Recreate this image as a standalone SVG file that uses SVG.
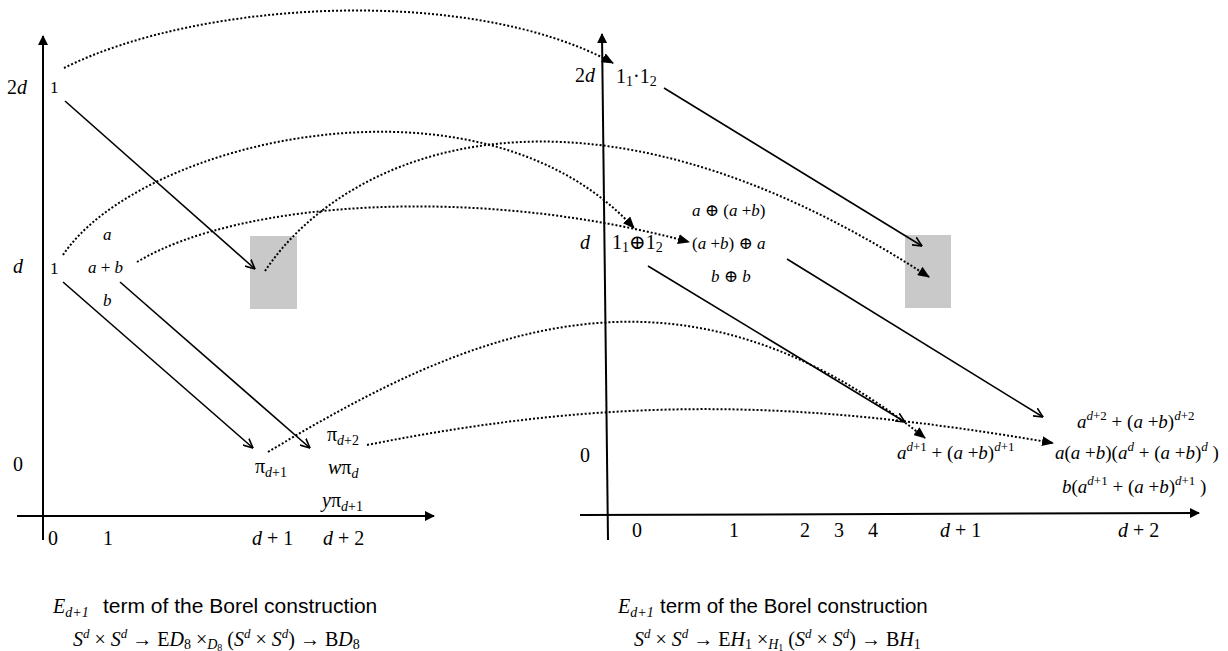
<svg xmlns="http://www.w3.org/2000/svg" width="1228" height="651" viewBox="0 0 1228 651">
<style>
.s{font-family:"Liberation Serif","DejaVu Serif",serif;font-size:20px;fill:#000}
.m{font-size:17px}
.e{font-size:19px}
.i{font-style:italic}
.sans{font-family:"Liberation Sans",Arial,sans-serif;font-style:normal}
.dot{fill:none;stroke:#000;stroke-width:2;stroke-dasharray:2 2}
.sol{fill:none;stroke:#000;stroke-width:1.6}
.ax{fill:none;stroke:#000;stroke-width:2}
.box{fill:#c9c9c9}
</style>
<defs>
<marker id="fa" viewBox="0 0 12 10" refX="11" refY="5" markerWidth="12" markerHeight="10" markerUnits="userSpaceOnUse" orient="auto"><path d="M0,0 L12,5 L0,10 z" fill="#000"/></marker>
<marker id="va" viewBox="0 0 10 10" refX="9.5" refY="5" markerWidth="10" markerHeight="10" markerUnits="userSpaceOnUse" orient="auto"><path d="M0,0.5 L9.5,5 L0,9.5" fill="none" stroke="#000" stroke-width="1.6"/></marker>
<marker id="ta" viewBox="0 0 10 10" refX="9" refY="5" markerWidth="10" markerHeight="10" markerUnits="userSpaceOnUse" orient="auto"><path d="M0,0 L10,5 L0,10 z" fill="#000"/></marker>
</defs>

<g id="boxes">
<rect id="box-left" class="box" x="250" y="236" width="47" height="73"/>
<rect id="box-right" class="box" x="905" y="235" width="46" height="73"/>
</g>

<g id="axes">
<line class="ax" x1="43" y1="540" x2="43" y2="36" marker-end="url(#ta)"/>
<line class="ax" x1="17" y1="516" x2="434" y2="516" marker-end="url(#ta)"/>
<line class="ax" x1="608" y1="540" x2="602" y2="34" marker-end="url(#ta)"/>
<line class="ax" x1="580" y1="515" x2="1199" y2="513" marker-end="url(#ta)"/>
</g>

<g id="connectors">
<path class="dot" d="M64,68 C200,0 470,-15 613,63" marker-end="url(#fa)"/>
<path class="dot" d="M63,255 C140,140 480,60 634,228" marker-end="url(#fa)"/>
<path class="dot" d="M137,262 C240,200 480,185 689,242" marker-end="url(#fa)"/>
<path class="dot" d="M265,271 C345,151 580,50 929,277" marker-end="url(#fa)"/>
<path class="dot" d="M268,452 C468,332 675,238 925,438" marker-end="url(#fa)"/>
<path class="dot" d="M367,445 C617,395 803,400 1053,443" marker-end="url(#fa)"/>
<line class="sol" x1="65" y1="101" x2="255" y2="269" marker-end="url(#va)"/>
<line class="sol" x1="63" y1="282" x2="253" y2="448" marker-end="url(#va)"/>
<line class="sol" x1="120" y1="282" x2="310" y2="448" marker-end="url(#va)"/>
<line class="sol" x1="664" y1="88" x2="922" y2="246" marker-end="url(#va)"/>
<line class="sol" x1="648" y1="266" x2="905" y2="422" marker-end="url(#va)"/>
<line class="sol" x1="787" y1="259" x2="1043" y2="417" marker-end="url(#va)"/>
</g>

<g id="left-labels">
<text class="s" x="7" y="94">2<tspan class="i">d</tspan></text>
<text class="s i" x="13" y="273">d</text>
<text class="s" x="13" y="471">0</text>
<text class="s" x="48" y="545">0</text>
<text class="s" x="103" y="545">1</text>
<text class="s" x="252" y="545"><tspan class="i">d</tspan> + 1</text>
<text class="s" x="323" y="545"><tspan class="i">d</tspan> + 2</text>
</g>

<g id="node-left-2d"><text class="s m" x="50" y="93">1</text></g>
<g id="node-left-d">
<text class="s m" x="50" y="274">1</text>
<text class="s m i" x="103" y="240">a</text>
<text class="s m" x="88" y="273"><tspan class="i">a</tspan> + <tspan class="i">b</tspan></text>
<text class="s m i" x="103" y="306">b</text>
</g>
<g id="node-left-0">
<text class="s" x="255" y="473">π<tspan class="i" font-size="14" dy="4">d</tspan><tspan font-size="14">+1</tspan></text>
<text class="s" x="327" y="441">π<tspan class="i" font-size="14" dy="4">d</tspan><tspan font-size="14">+2</tspan></text>
<text class="s" x="328" y="474"><tspan class="i">w</tspan>π<tspan class="i" font-size="14" dy="4">d</tspan></text>
<text class="s" x="322" y="507"><tspan class="i">y</tspan>π<tspan class="i" font-size="14" dy="4">d</tspan><tspan font-size="14">+1</tspan></text>
</g>

<g id="right-labels">
<text class="s" x="575" y="82">2<tspan class="i">d</tspan></text>
<text class="s i" x="580" y="249">d</text>
<text class="s" x="580" y="462">0</text>
<text class="s" x="637" y="537" text-anchor="middle">0</text>
<text class="s" x="734" y="537" text-anchor="middle">1</text>
<text class="s" x="805" y="537" text-anchor="middle">2</text>
<text class="s" x="839" y="537" text-anchor="middle">3</text>
<text class="s" x="873" y="537" text-anchor="middle">4</text>
<text class="s" x="940" y="537"><tspan class="i">d</tspan> + 1</text>
<text class="s" x="1118" y="537"><tspan class="i">d</tspan> + 2</text>
</g>

<g id="node-right-2d"><text class="s" x="616" y="83">1<tspan font-size="14" dy="3">1</tspan><tspan dy="-3">·1</tspan><tspan font-size="14" dy="3">2</tspan></text></g>
<g id="node-right-d">
<text class="s" x="612" y="249">1<tspan font-size="14" dy="3">1</tspan><tspan dy="-3">⊕1</tspan><tspan font-size="14" dy="3">2</tspan></text>
<text class="s m" x="692" y="216"><tspan class="i">a</tspan> ⊕ (<tspan class="i">a</tspan> +<tspan class="i">b</tspan>)</text>
<text class="s m" x="692" y="249">(<tspan class="i">a</tspan> +<tspan class="i">b</tspan>) ⊕ <tspan class="i">a</tspan></text>
<text class="s m" x="711" y="282"><tspan class="i">b</tspan> ⊕ <tspan class="i">b</tspan></text>
</g>
<g id="node-right-d1">
<text class="s e" x="897" y="459"><tspan class="i">a</tspan><tspan class="i" font-size="13" dy="-8">d</tspan><tspan font-size="13">+1</tspan><tspan dy="8"> + (</tspan><tspan class="i">a</tspan> +<tspan class="i">b</tspan>)<tspan class="i" font-size="13" dy="-8">d</tspan><tspan font-size="13">+1</tspan></text>
</g>
<g id="node-right-d2">
<text class="s e" x="1077" y="428"><tspan class="i">a</tspan><tspan class="i" font-size="13" dy="-8">d</tspan><tspan font-size="13">+2</tspan><tspan dy="8"> + (</tspan><tspan class="i">a</tspan> +<tspan class="i">b</tspan>)<tspan class="i" font-size="13" dy="-8">d</tspan><tspan font-size="13">+2</tspan></text>
<text class="s e" x="1055" y="459"><tspan class="i">a</tspan>(<tspan class="i">a</tspan> +<tspan class="i">b</tspan>)(<tspan class="i">a</tspan><tspan class="i" font-size="13" dy="-8">d</tspan><tspan dy="8"> + (</tspan><tspan class="i">a</tspan> +<tspan class="i">b</tspan>)<tspan class="i" font-size="13" dy="-8">d</tspan><tspan dy="8"> )</tspan></text>
<text class="s e" x="1062" y="493"><tspan class="i">b</tspan>(<tspan class="i">a</tspan><tspan class="i" font-size="13" dy="-8">d</tspan><tspan font-size="13">+1</tspan><tspan dy="8"> + (</tspan><tspan class="i">a</tspan> +<tspan class="i">b</tspan>)<tspan class="i" font-size="13" dy="-8">d</tspan><tspan font-size="13">+1</tspan><tspan dy="8"> )</tspan></text>
</g>

<g id="caption-left">
<text class="s i" x="53" y="613">E<tspan font-size="14" dy="4">d+1</tspan><tspan class="sans" font-size="21" dy="-4" x="103">term of the Borel construction</tspan></text>
<text class="s" x="73" y="646"><tspan class="i">S</tspan><tspan class="i" font-size="13" dy="-8">d</tspan><tspan dy="8"> × </tspan><tspan class="i">S</tspan><tspan class="i" font-size="13" dy="-8">d</tspan><tspan dy="8"> → E</tspan><tspan class="i">D</tspan><tspan font-size="14" dy="3">8</tspan><tspan dy="-3"> ×</tspan><tspan class="i" font-size="14" dy="3">D</tspan><tspan font-size="10" dy="2">8</tspan><tspan dy="-5"> (</tspan><tspan class="i">S</tspan><tspan class="i" font-size="13" dy="-8">d</tspan><tspan dy="8"> × </tspan><tspan class="i">S</tspan><tspan class="i" font-size="13" dy="-8">d</tspan><tspan dy="8">) → B</tspan><tspan class="i">D</tspan><tspan font-size="14" dy="3">8</tspan></text>
</g>
<g id="caption-right">
<text class="s i" x="618" y="613">E<tspan font-size="14" dy="4">d+1</tspan><tspan class="sans" font-size="20.5" dy="-4" x="660">term of the Borel construction</tspan></text>
<text class="s" x="634" y="646"><tspan class="i">S</tspan><tspan class="i" font-size="13" dy="-8">d</tspan><tspan dy="8"> × </tspan><tspan class="i">S</tspan><tspan class="i" font-size="13" dy="-8">d</tspan><tspan dy="8"> → E</tspan><tspan class="i">H</tspan><tspan font-size="14" dy="3">1</tspan><tspan dy="-3"> ×</tspan><tspan class="i" font-size="14" dy="3">H</tspan><tspan font-size="10" dy="2">1</tspan><tspan dy="-5"> (</tspan><tspan class="i">S</tspan><tspan class="i" font-size="13" dy="-8">d</tspan><tspan dy="8"> × </tspan><tspan class="i">S</tspan><tspan class="i" font-size="13" dy="-8">d</tspan><tspan dy="8">) → B</tspan><tspan class="i">H</tspan><tspan font-size="14" dy="3">1</tspan></text>
</g>
</svg>
